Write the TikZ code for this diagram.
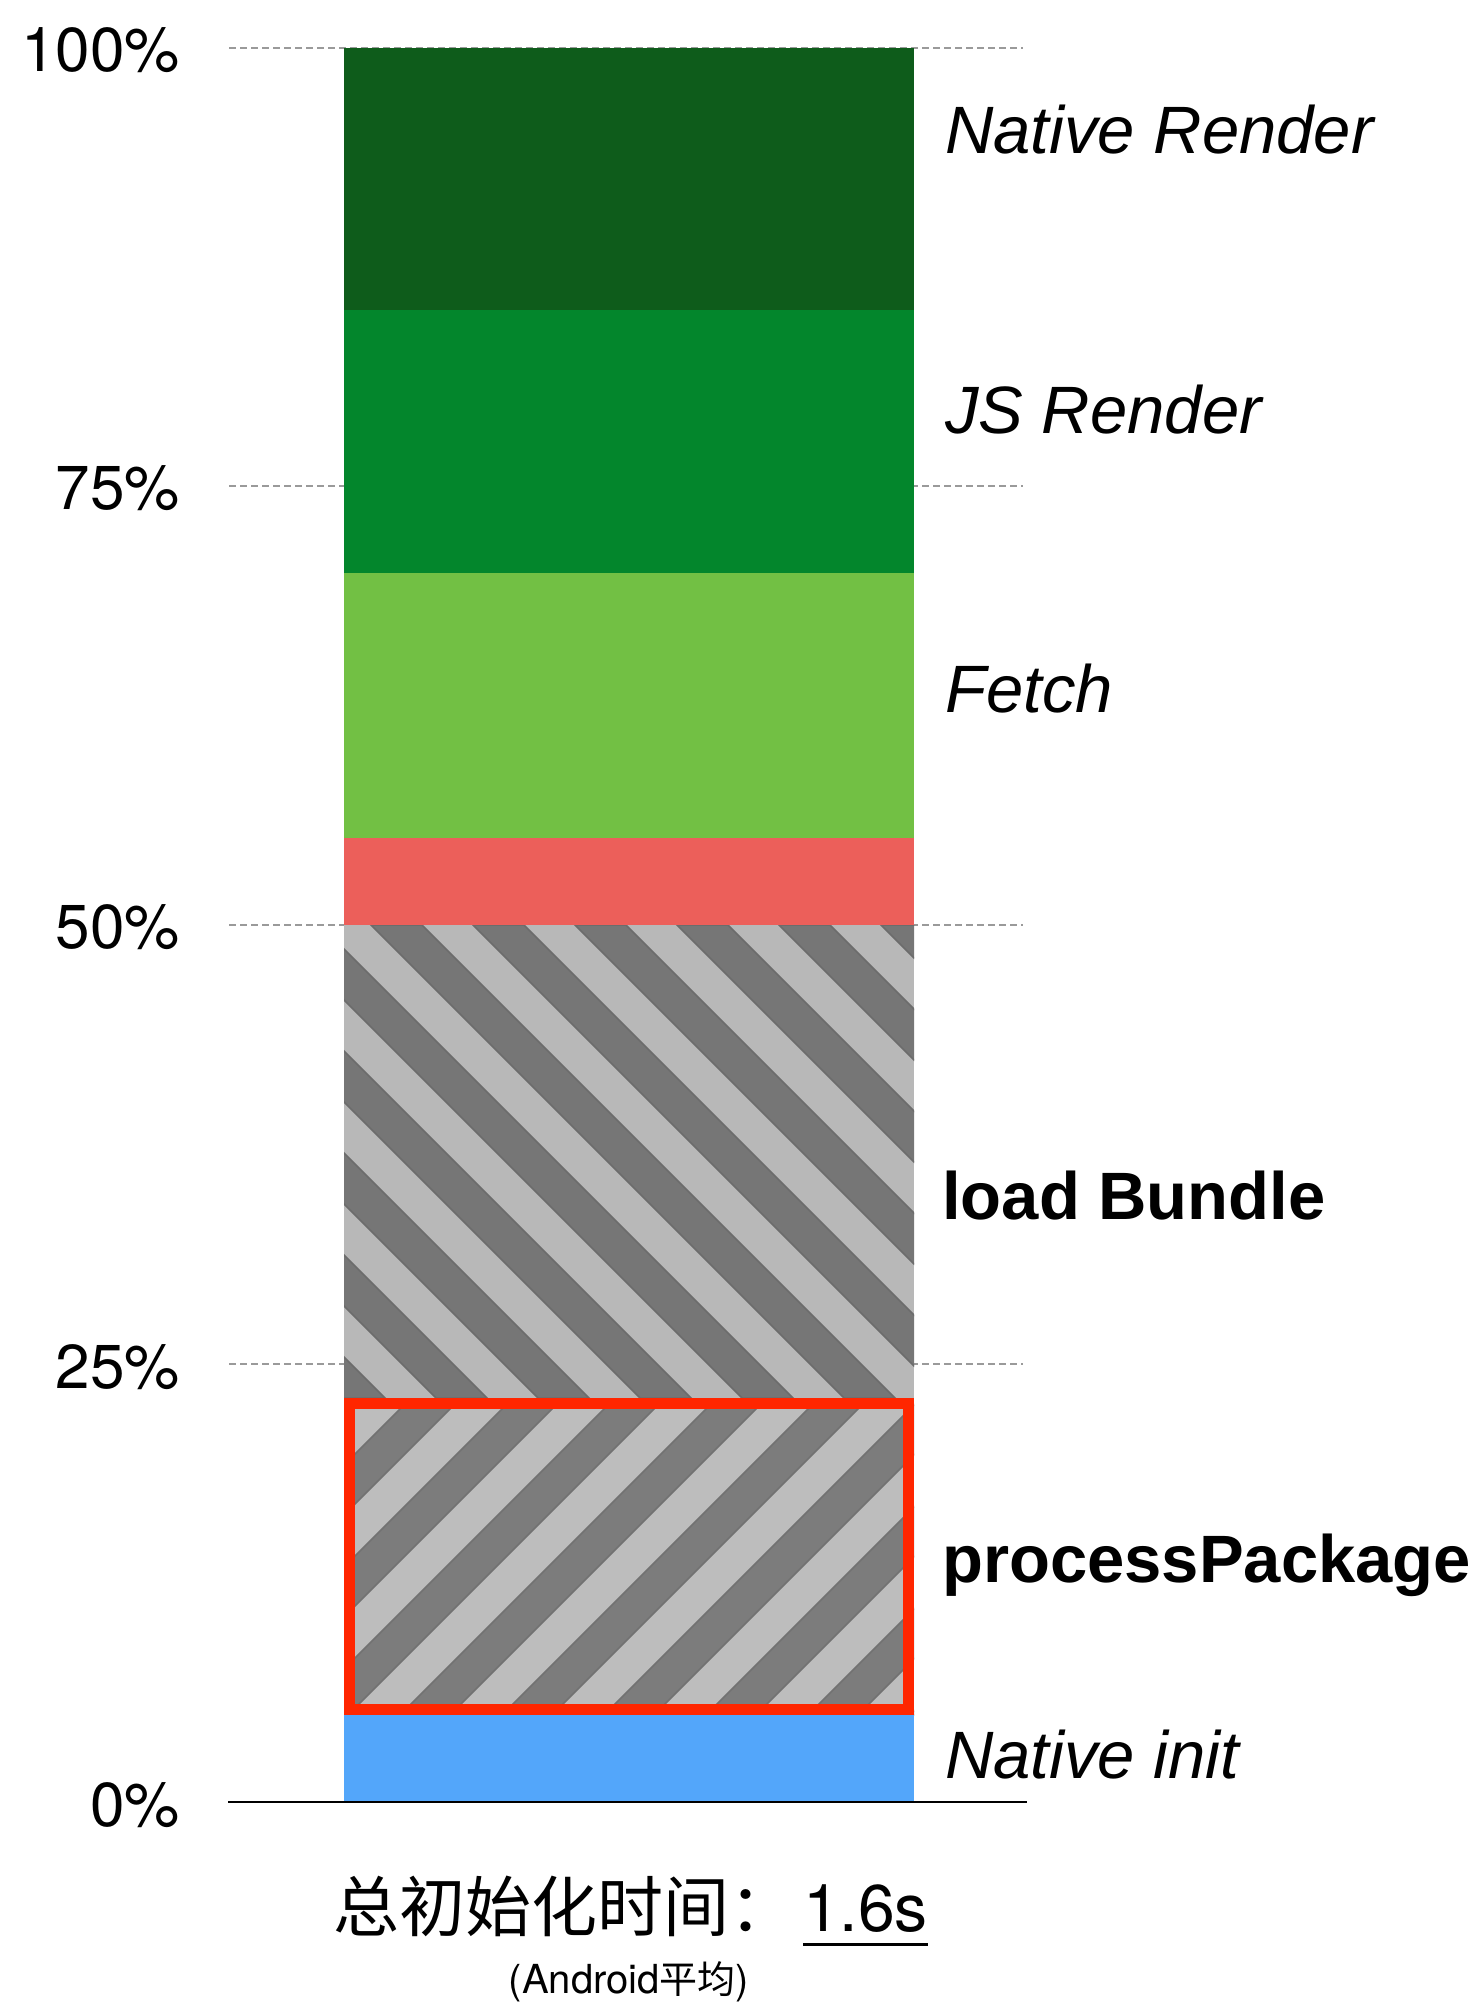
\documentclass[tikz,border=0pt]{standalone}
\usepackage{fontspec}
\setmainfont{Liberation Sans}
\newfontfamily\lightsans{TeX Gyre Heros}
\newfontfamily\cjk{Noto Sans CJK SC}

\definecolor{nrgreen}{HTML}{0E5C1B}
\definecolor{jsgreen}{HTML}{03862C}
\definecolor{fetchgreen}{HTML}{72C044}
\definecolor{segred}{HTML}{EC5F5A}
\definecolor{initblue}{HTML}{53A6FA}
\definecolor{hilite}{HTML}{FF2600}
\definecolor{lbdark}{HTML}{767676}
\definecolor{lbedge}{HTML}{6C6C6C}
\definecolor{lblight}{HTML}{B8B8B8}
\definecolor{ppdark}{HTML}{7C7C7C}
\definecolor{pplight}{HTML}{BDBDBD}
\definecolor{gridgray}{HTML}{9A9A9A}

\tikzset{
  gridline/.style={draw=gridgray, line width=2, dash pattern=on 7 off 4},
  pctlabel/.style={anchor=base east, inner sep=0, font=\lightsans\fontsize{62}{70}\selectfont},
  itlabel/.style={anchor=base west, inner sep=0, font=\itshape\fontsize{67}{74}\selectfont},
  bflabel/.style={anchor=base west, inner sep=0, font=\bfseries\fontsize{67}{74}\selectfont},
}

\begin{document}
\begin{tikzpicture}[x=1pt,y=-1pt]
\useasboundingbox (0,0) rectangle (1481,2006);

% dotted reference lines behind the bar
\foreach \yy in {47.5,486,925,1364}
  \draw[gridline] (229,\yy) -- (1023,\yy);

% stacked segments
\fill[nrgreen]    (344,47.5) rectangle (914,309.5);
\fill[jsgreen]    (344,309.5) rectangle (914,573);
\fill[fetchgreen] (344,573) rectangle (914,838);
\fill[segred]     (344,838) rectangle (914,925);

% load Bundle: stripes running down to the right
\begin{scope}
  \clip (344,925) rectangle (914,1398);
  \fill[lblight] (344,925) rectangle (914,1398);
  \foreach \k in {-6,...,6}{
    \pgfmathsetmacro\c{-554+102*\k}
    \filldraw[fill=lbdark, draw=lbedge, line width=1.5]
      (\c+925,925) -- (\c+976,925) -- (\c+1449,1398) -- (\c+1398,1398) -- cycle;
  }
\end{scope}

% processPackage: stripes running up to the right
\begin{scope}
  \clip (344,1398) rectangle (914,1715);
  \fill[pplight] (344,1398) rectangle (914,1715);
  \foreach \k in {-2,...,9}{
    \pgfmathsetmacro\c{1809+102*\k}
    \filldraw[fill=ppdark, draw=ppdark!92!black, line width=1.5]
      (\c-1398,1398) -- (\c+50-1398,1398) -- (\c+50-1715,1715) -- (\c-1715,1715) -- cycle;
  }
\end{scope}
\draw[hilite, line width=11] (349.5,1403.5) rectangle (908.5,1709.5);

% Native init
\fill[initblue] (344,1715) rectangle (914,1802);

% base axis
\draw[black, line width=2.5] (228,1802) -- (1027,1802);

% percentage scale
\node[pctlabel] (p100) at (180,71)   {100\%};
\node[pctlabel] (p75)  at (180,509)  {75\%};
\node[pctlabel] (p50)  at (180,948)  {50\%};
\node[pctlabel] (p25)  at (180,1388) {25\%};
\node[pctlabel] (p0)   at (180,1826) {0\%};

% segment names
\node[itlabel] (lnr)  at (945,153)  {Native Render};
\node[itlabel] (ljs)  at (945,433)  {JS Render};
\node[itlabel] (lfe)  at (945,712)  {Fetch};
\node[bflabel] (llb)  at (942,1219) {load Bundle};
\node[bflabel] (lpp)  at (942,1582) {processPackage};
\node[itlabel] (lni)  at (945,1778) {Native init};

% total time caption
\node[anchor=base west, inner sep=0, font=\cjk\fontsize{66}{72}\selectfont]
  (ttl) at (333,1931) {总初始化时间：};
\node[anchor=base west, inner sep=0, font=\lightsans\fontsize{66}{74}\selectfont]
  (dur) at (803,1931) {1.6s};
\draw[black, line width=3] ([yshift=-13pt]dur.base west) -- ([yshift=-13pt]dur.base east);
\node[anchor=base, inner sep=0, font=\lightsans\fontsize{40}{46}\selectfont]
  (avg) at (629,1993) {(Android{\cjk\fontsize{38}{46}\selectfont 平均})};
\end{tikzpicture}
\end{document}
